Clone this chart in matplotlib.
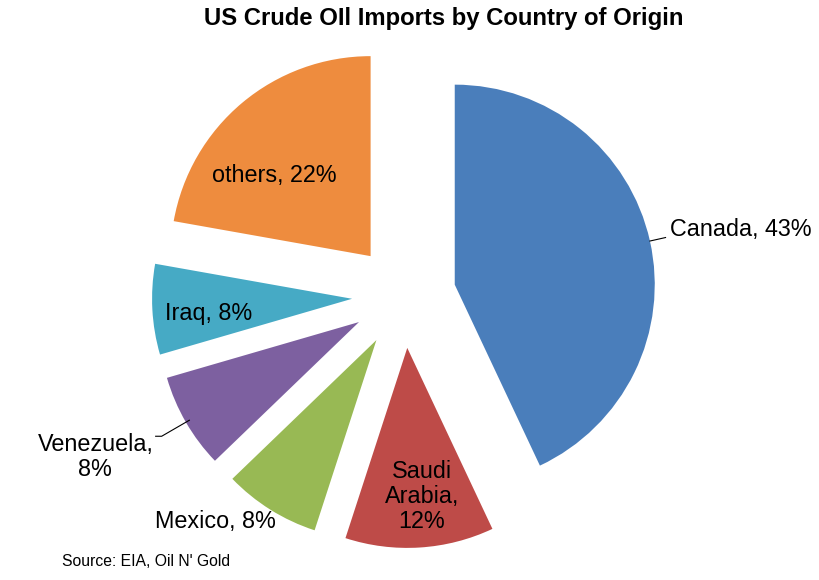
import numpy as np
import matplotlib
matplotlib.use("Agg")
import matplotlib.pyplot as plt

plt.rcParams['font.family'] = ['Liberation Sans', 'DejaVu Sans']

countries = ['Canada', 'Saudi\nArabia', 'Mexico', 'Venezuela', 'Iraq', 'others']
shares = [43.0, 12.0, 7.8, 7.7, 7.3, 22.2]      # wedge sizes
pct_labels = [43, 12, 8, 8, 8, 22]              # rounded percentages shown
colors = ['#4a7ebb', '#be4b48', '#98b954', '#7d60a0', '#46aac5', '#ee8c3e']

# label placement around each wedge's own centre: (radius factor, angle offset deg, ha)
label_pos = [(1.11, 1.8, 'left'), (0.745, 2.0, 'center'), (1.21, -9.5, 'center'),
             (1.48, -3.0, 'center'), (0.72, 2.8, 'center'), (0.63, 10.0, 'center')]
leaders = {0: [1.0, 1.08], 3: [0.98, 1.14]}

fig = plt.figure(figsize=(8.19, 5.8), dpi=100)
ax = fig.add_axes([0, 0, 1, 1])

wedges, _ = ax.pie(shares, colors=colors, startangle=90, counterclock=False,
                   explode=[0.26] * len(shares), radius=1.0,
                   wedgeprops=dict(linewidth=0))
ax.set_xlim(-2.02, 2.075)
ax.set_ylim(-1.42, 1.48)
ax.set_aspect('equal')
ax.axis('off')

for i, w in enumerate(wedges):
    cx, cy = w.center
    mid = np.deg2rad((w.theta1 + w.theta2) / 2)
    name = countries[i]
    if name == 'Venezuela' or '\n' in name:
        txt = f"{name},\n{pct_labels[i]}%"
    else:
        txt = f"{name}, {pct_labels[i]}%"
    r, off, ha = label_pos[i]
    a = mid + np.deg2rad(off)
    tx, ty = cx + r * np.cos(a), cy + r * np.sin(a)
    ax.text(tx, ty, txt, ha=ha, va='center', fontsize=16.8, linespacing=1.12)
    if i in leaders:
        r0, r1 = leaders[i]
        xs = [cx + r0 * np.cos(mid), cx + r1 * np.cos(mid)]
        ys = [cy + r0 * np.sin(mid), cy + r1 * np.sin(mid)]
        if i == 3:
            xs.append(xs[-1] - 0.03)
            ys.append(ys[-1])
        ax.plot(xs, ys, color='black', linewidth=0.8)

fig.text(444 / 819, 1 - 18 / 580, 'US Crude OIl Imports by Country of Origin',
         ha='center', va='center', fontsize=17.2, fontweight='bold')
fig.text(62 / 819, 1 - 562 / 580, "Source: EIA, Oil N' Gold",
         ha='left', va='center', fontsize=11.3)

fig.savefig('out.png', dpi=100)
